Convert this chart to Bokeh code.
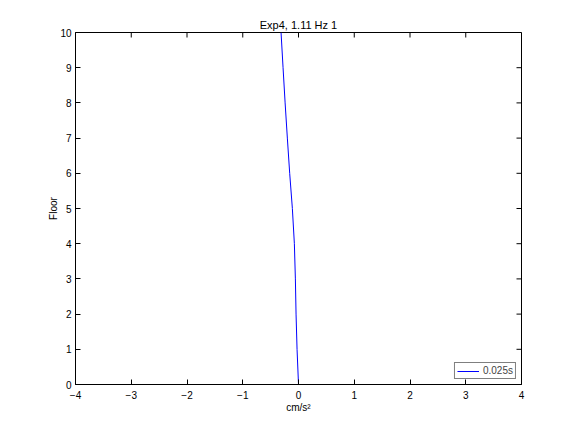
import math
from bokeh.plotting import figure
from bokeh.models import Range1d, FixedTicker, Legend, LegendItem
from bokeh.embed import file_html
from bokeh.resources import INLINE

# Data
floors = [0, 1, 2, 3, 4, 5, 6, 7, 8, 9, 10]
accel = [0.0, -0.026, -0.044, -0.056, -0.074, -0.11, -0.158, -0.2, -0.24, -0.277, -0.313]
x_ticks = [-4, -3, -2, -1, 0, 1, 2, 3, 4]
y_ticks = [0, 1, 2, 3, 4, 5, 6, 7, 8, 9, 10]
title_text = "Exp4, 1.11 Hz 1"
legend_label = "0.025s"

FONT = "Liberation Sans"

p = figure(width=576, height=432, output_backend="svg", toolbar_location=None,
           x_range=Range1d(-4, 4), y_range=Range1d(0, 10),
           min_border_left=75, min_border_right=55, min_border_top=32, min_border_bottom=48,
           x_axis_label="cm/s²", y_axis_label="Floor", title=title_text)
p.background_fill_color = "white"
p.border_fill_color = "white"
p.outline_line_color = "black"
p.outline_line_width = 1
p.xgrid.visible = False
p.ygrid.visible = False

p.title.align = "center"
p.title.text_font = FONT
p.title.text_font_size = "11px"
p.title.text_font_style = "normal"
p.title.text_color = "black"
p.title.standoff = 4

def style_axis(ax, ticks, standoff):
    ax.ticker = FixedTicker(ticks=ticks)
    ax.major_tick_in = 5
    ax.major_tick_out = 0
    ax.minor_tick_line_color = None
    ax.axis_line_color = "black"
    ax.major_tick_line_color = "black"
    ax.major_label_text_font = FONT
    ax.major_label_text_font_size = "10px"
    ax.major_label_text_color = "black"
    ax.major_label_standoff = standoff
    ax.axis_label_text_font = FONT
    ax.axis_label_text_font_size = "10px"
    ax.axis_label_text_font_style = "normal"
    ax.axis_label_text_color = "black"
    ax.axis_label_standoff = 0

style_axis(p.xaxis[0], x_ticks, 6)
style_axis(p.yaxis[0], y_ticks, 4)
p.yaxis[0].axis_label_standoff = -2

# inward ticks on the top and right edges (box on)
p.ray(x=x_ticks, y=[10] * len(x_ticks), length=5, length_units="screen",
      angle=-math.pi / 2, line_color="black", line_width=1)
p.ray(x=[4] * len(y_ticks), y=y_ticks, length=5, length_units="screen",
      angle=math.pi, line_color="black", line_width=1)

r = p.line(accel, floors, line_color="blue", line_width=1)

legend = Legend(items=[LegendItem(label=legend_label, renderers=[r])],
                location="bottom_right")
legend.border_line_color = "black"
legend.border_line_width = 1
legend.label_text_font = FONT
legend.label_text_font_size = "10px"
legend.glyph_width = 22
legend.glyph_height = 10
legend.label_height = 10
legend.padding = 2
legend.spacing = 0
legend.margin = 5
legend.label_standoff = 4
legend.background_fill_color = "white"
p.add_layout(legend)

open("out.html", "w").write(file_html(p, INLINE))
